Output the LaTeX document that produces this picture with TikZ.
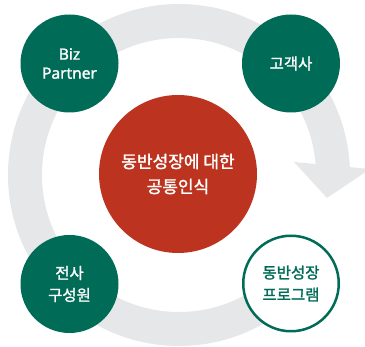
\documentclass[tikz,border=0pt]{standalone}
\usepackage{fontspec}
\newfontfamily\kr[FakeBold=1.6]{Noto Sans CJK KR}
\newfontfamily\lat[FakeBold=1.4]{Noto Sans}
\definecolor{ringgray}{RGB}{230,231,232}
\definecolor{dkgreen}{RGB}{0,107,87}
\definecolor{dkred}{RGB}{188,52,32}
\begin{document}
\begin{tikzpicture}[x=1pt,y=-1pt,
  greenc/.style={circle,fill=dkgreen,minimum size=98pt,inner sep=0pt,text=white,align=center,font=\kr\fontsize{15.5}{22}\selectfont},
  outlinec/.style={circle,fill=white,draw=dkgreen,line width=2.5pt,minimum size=95.5pt,inner sep=0pt,text=dkgreen,align=center,font=\kr\fontsize{15.5}{22}\selectfont},
  redc/.style={circle,fill=dkred,minimum size=158pt,inner sep=0pt,text=white,align=center,font=\kr\fontsize{17}{25}\selectfont}]
\useasboundingbox (0,0) rectangle (365,347);
\clip (0,0) rectangle (365,347);
% ring
\coordinate (c) at (179,175);
\fill[ringgray] ([shift={(44:171)}]c) arc[start angle=44,end angle=360,radius=171]
  -- ([shift={(360:137)}]c) arc[start angle=360,end angle=44,radius=137] -- cycle;
% arrow head
\coordinate (h1) at (294,162);
\coordinate (h2) at (370,169);
\coordinate (h3) at (327,198);
\fill[ringgray] (h1) -- (h2) -- (h3) -- cycle;
% circles
\node[redc] (center) at (178,174) {동반성장에 대한\\공통인식};
\node[greenc,font=\lat\fontsize{15.5}{19}\selectfont] (biz) at (69.5,63.5) {Biz\\Partner};
\node[greenc] (cust) at (291,63.5) {고객사};
\node[greenc] (emp) at (69.5,284) {전사\\구성원};
\node[outlinec] (prog) at (291,283.5) {동반성장\\프로그램};
\end{tikzpicture}
\end{document}
